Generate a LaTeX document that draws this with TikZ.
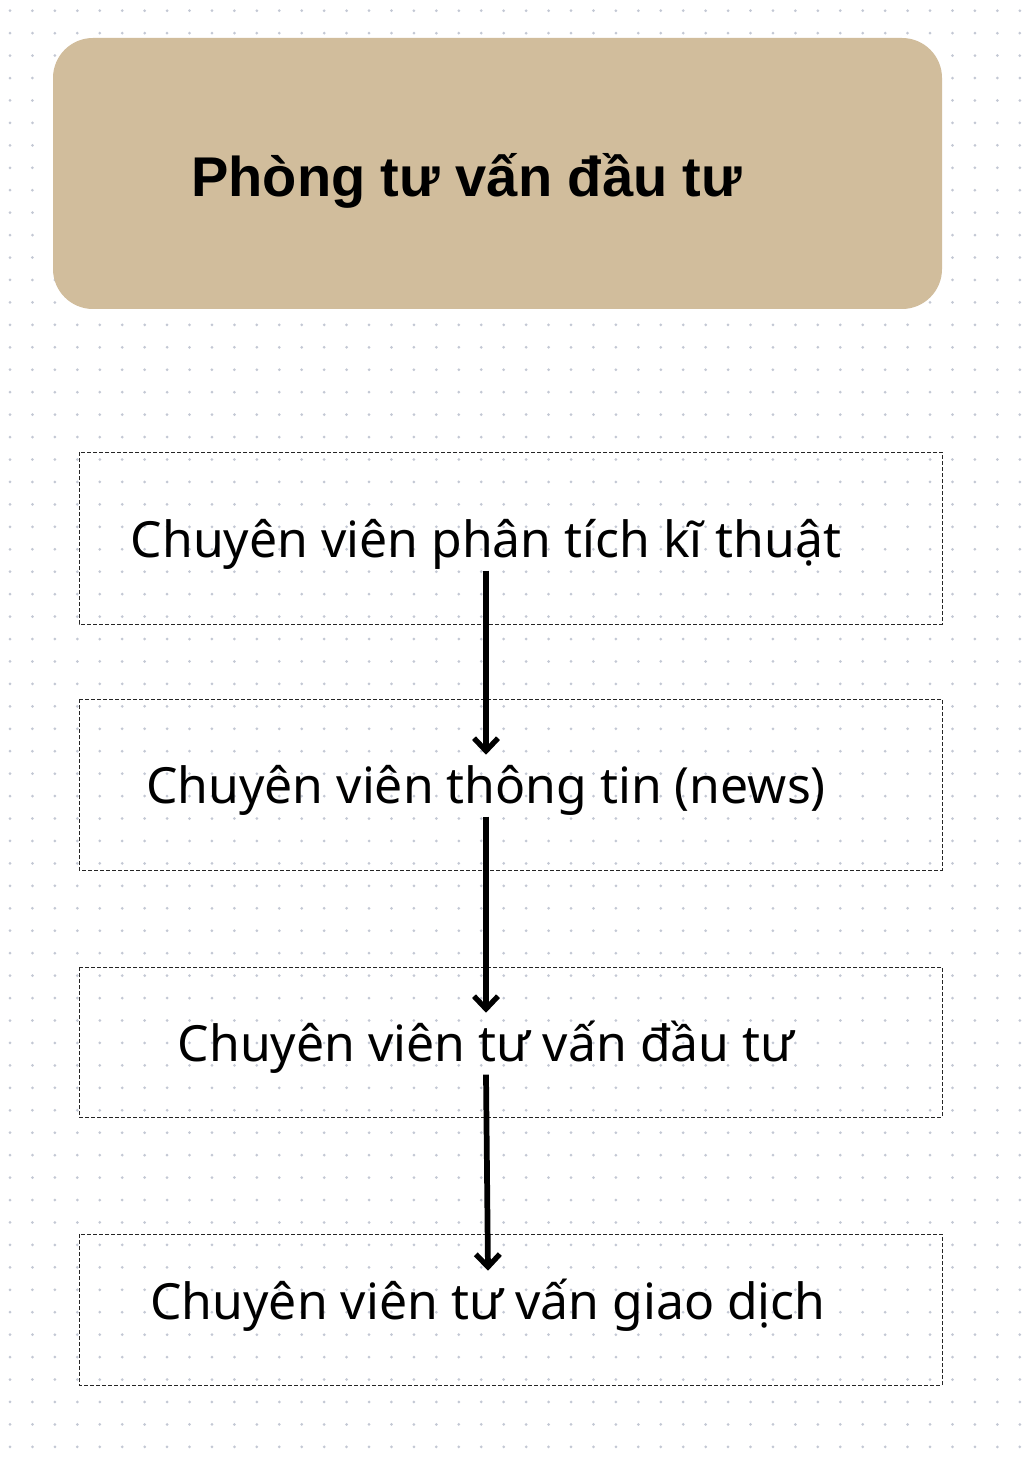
\documentclass[tikz,border=0pt]{standalone}
\usepackage{fontspec}
\setmainfont{Noto Sans}
\newfontfamily\titlefont{Liberation Sans}
\usetikzlibrary{arrows.meta, positioning}
\definecolor{tan}{HTML}{D1BD9C}
\definecolor{griddot}{HTML}{C3C8D4}
\tikzset{
  staffbox/.style={draw=black!85, line width=0.7pt, dash pattern=on 3pt off 1.5pt},
  staff/.style={inner sep=0pt, anchor=base, text height=36pt, text depth=10pt,
    font=\fontsize{37.4}{44}\selectfont},
  flow/.style={line width=4.3pt, -{Straight Barb[length=9.5pt, width=18pt, line width=4pt]}}
}
\begin{document}
\begin{tikzpicture}[x=0.75pt, y=-0.75pt]
\useasboundingbox (0,0) rectangle (1022,1458);
\fill[white] (0,0) rectangle (1022,1458);
% dot grid
\foreach \i in {0,...,45}
  \foreach \j in {0,...,64}
    \fill[griddot] (10+22.44*\i, 10.7+22.44*\j) circle (1.5);
% department
\path[fill=tan, rounded corners=30pt] (53,38) rectangle (942,309);
\node[inner sep=0pt, anchor=base west, font=\titlefont\bfseries\fontsize{42}{50}\selectfont]
  (dept) at (191,197) {Phòng tư vấn đầu tư};
% staff boxes
\draw[staffbox] (79,452) rectangle (942,624);
\draw[staffbox] (79,699) rectangle (942,870);
\draw[staffbox] (79,967) rectangle (942,1117);
\draw[staffbox] (79,1234) rectangle (942,1385);
\node[staff] (tech) at (486,557) {Chuyên viên phân tích kĩ thuật};
\node[staff] (news) at (486,803) {Chuyên viên thông tin (news)};
\node[staff] (advice) at (486,1061) {Chuyên viên tư vấn đầu tư};
\node[staff] (trade) at (488,1319) {Chuyên viên tư vấn giao dịch};
% flow
\draw[flow] (tech.south) -- (news.north);
\draw[flow] (news.south) -- (advice.north);
\draw[flow] (advice.south) -- (trade.north);
\end{tikzpicture}
\end{document}
